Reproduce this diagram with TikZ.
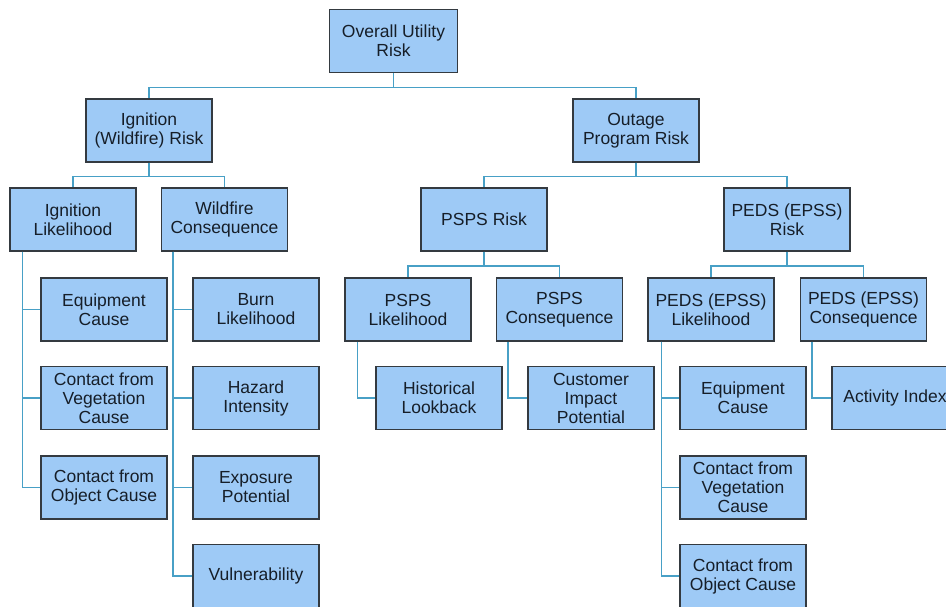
\documentclass[tikz,border=0pt]{standalone}
\usepackage{fontspec}
\setmainfont{Liberation Sans}
\definecolor{boxfill}{RGB}{158,202,246}
\definecolor{boxline}{RGB}{52,58,64}
\definecolor{linkcol}{RGB}{72,160,198}
\definecolor{txtcol}{RGB}{22,30,40}
\tikzset{
  riskbox/.style={draw=boxline, line width=1.4pt, fill=boxfill, rectangle,
    minimum width=126pt, minimum height=63pt, inner sep=0pt,
    align=center, text=txtcol, font=\fontsize{17.5}{19}\selectfont},
  link/.style={draw=linkcol, line width=1.6pt}
}
\begin{document}
\begin{tikzpicture}[x=1pt, y=-1pt]
\useasboundingbox (0,0) rectangle (946,607);
\fill[white] (0,0) rectangle (946,607);

% level 0 and 1
\node[riskbox, minimum width=128pt] (top) at (393.5,41) {Overall Utility\\Risk};
\node[riskbox] (ign) at (149,130.5) {Ignition\\(Wildfire) Risk};
\node[riskbox] (out) at (636,130.5) {Outage\\Program Risk};

% level 2
\node[riskbox] (il)   at (73,219.5)  {Ignition\\Likelihood};
\node[riskbox] (wc)   at (224.5,219.5) {Wildfire\\Consequence};
\node[riskbox] (psps) at (484,219.5) {PSPS Risk};
\node[riskbox] (peds) at (787,219.5) {PEDS (EPSS)\\Risk};

% level 3
\node[riskbox] (pl)  at (408,309.5)   {PSPS\\Likelihood};
\node[riskbox] (pc)  at (559.5,309.5) {PSPS\\Consequence};
\node[riskbox] (pel) at (711,309.5)   {PEDS (EPSS)\\Likelihood};
\node[riskbox] (pec) at (863.5,309.5) {PEDS (EPSS)\\Consequence};

% ignition likelihood drivers
\node[riskbox] (eqa)  at (104,309.5) {Equipment\\Cause};
\node[riskbox] (vega) at (104,398)   {Contact from\\Vegetation\\Cause};
\node[riskbox] (obja) at (104,487.5) {Contact from\\Object Cause};

% wildfire consequence drivers
\node[riskbox] (burn) at (256,309.5) {Burn\\Likelihood};
\node[riskbox] (haz)  at (256,398)   {Hazard\\Intensity};
\node[riskbox] (expo) at (256,487.5) {Exposure\\Potential};
\node[riskbox] (vul)  at (256,576)   {Vulnerability};

% PSPS drivers
\node[riskbox] (hist) at (439,398) {Historical\\Lookback};
\node[riskbox] (cust) at (591,398) {Customer\\Impact\\Potential};

% PEDS drivers
\node[riskbox] (eqb)  at (743,398)   {Equipment\\Cause};
\node[riskbox] (vegb) at (743,487.5) {Contact from\\Vegetation\\Cause};
\node[riskbox] (objb) at (743,576)   {Contact from\\Object Cause};
\node[riskbox] (act)  at (895,398)   {Activity Index};

% tree connectors
\begin{scope}[link]
  \draw (top.south) -- ++(0,14.5) -| (ign.north);
  \draw (top.south) -- ++(0,14.5) -| (out.north);
  \draw (ign.south) -- ++(0,14) -| (il.north);
  \draw (ign.south) -- ++(0,14) -| (wc.north);
  \draw (out.south) -- ++(0,14) -| (psps.north);
  \draw (out.south) -- ++(0,14) -| (peds.north);
  \draw (psps.south) -- ++(0,14.5) -| (pl.north);
  \draw (psps.south) -- ++(0,14.5) -| (pc.north);
  \draw (peds.south) -- ++(0,14.5) -| (pel.north);
  \draw (peds.south) -- ++(0,14.5) -| (pec.north);

  % side connectors to leaf drivers
  \draw ([xshift=13pt]il.south west) |- (eqa.west);
  \draw ([xshift=13pt]il.south west) |- (vega.west);
  \draw ([xshift=13pt]il.south west) |- (obja.west);
  \draw ([xshift=12pt]wc.south west) |- (burn.west);
  \draw ([xshift=12pt]wc.south west) |- (haz.west);
  \draw ([xshift=12pt]wc.south west) |- (expo.west);
  \draw ([xshift=12pt]wc.south west) |- (vul.west);
  \draw ([xshift=13pt]pl.south west) |- (hist.west);
  \draw ([xshift=12pt]pc.south west) |- (cust.west);
  \draw ([xshift=14pt]pel.south west) |- (eqb.west);
  \draw ([xshift=14pt]pel.south west) |- (vegb.west);
  \draw ([xshift=14pt]pel.south west) |- (objb.west);
  \draw ([xshift=12pt]pec.south west) |- (act.west);
\end{scope}
\end{tikzpicture}
\end{document}
